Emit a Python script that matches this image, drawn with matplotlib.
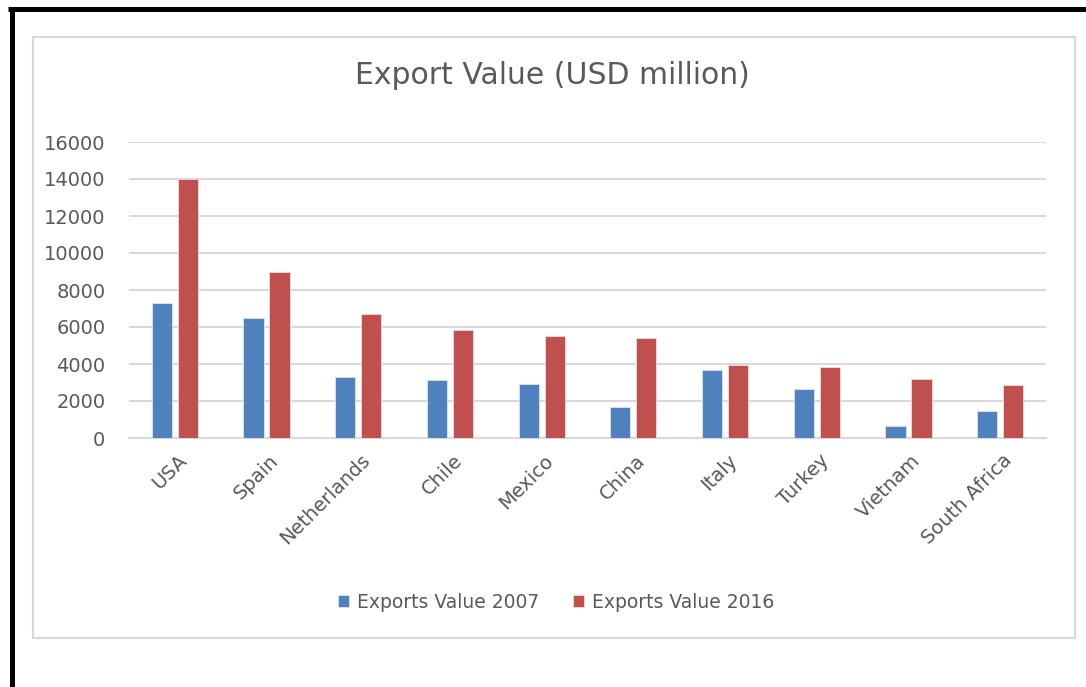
import numpy as np
import matplotlib
matplotlib.use("Agg")
import matplotlib.pyplot as plt
from matplotlib.patches import Rectangle
from matplotlib.lines import Line2D

# Exportwerte in Mio. USD
countries = ["USA", "Spain", "Netherlands", "Chile", "Mexico",
             "China", "Italy", "Turkey", "Vietnam", "South Africa"]
exports_2007 = [7300, 6500, 3300, 3150, 2900, 1650, 3700, 2650, 650, 1450]
exports_2016 = [14000, 8950, 6700, 5850, 5500, 5400, 3950, 3850, 3200, 2850]
y_ticks = [0, 2000, 4000, 6000, 8000, 10000, 12000, 14000, 16000]

blue = "#4F81BD"
red = "#C0504D"
text_gray = "#595959"
grid_gray = "#D9D9D9"

fig = plt.figure(figsize=(10.86, 6.87), dpi=100)
ax = fig.add_axes([129 / 1086, 1 - 438 / 687, 917 / 1086, 296 / 687])

x = np.arange(len(countries))
w = 0.22
off = 0.142
ax.bar(x - off, exports_2007, w, color=blue, edgecolor="#DCE6F2", linewidth=0.6,
       label="Exports Value 2007", zorder=3)
ax.bar(x + off, exports_2016, w, color=red, edgecolor="#F2DCDB", linewidth=0.6,
       label="Exports Value 2016", zorder=3)

ax.set_xlim(-0.5, len(countries) - 0.5)
ax.set_ylim(0, 16000)
ax.set_yticks(y_ticks)
ax.set_yticklabels([str(t) for t in y_ticks])
ax.yaxis.grid(True, color=grid_gray, linewidth=1.5, zorder=0)
ax.set_axisbelow(True)
for s in ["top", "right", "left"]:
    ax.spines[s].set_visible(False)
ax.spines["bottom"].set_color(grid_gray)
ax.spines["bottom"].set_linewidth(1.5)
ax.tick_params(axis="y", length=0, pad=17, labelsize=14, labelcolor=text_gray)
ax.tick_params(axis="x", length=0, pad=14)
ax.set_xticks(x + 0.1)
ax.set_xticklabels(countries, rotation=45, ha="right", va="center",
                   rotation_mode="anchor", fontsize=14, color=text_gray)

# Titel
fig.text(552 / 1086, 1 - 75 / 687, "Export Value (USD million)", ha="center",
         va="center", fontsize=21.5, color=text_gray)

# Legende unten
fig.legend(loc="center", bbox_to_anchor=(556 / 1086, 1 - 602 / 687), ncol=2,
           frameon=False, fontsize=13.5, labelcolor=text_gray,
           handlelength=0.6, handleheight=0.6, handletextpad=0.4,
           columnspacing=1.8)

# Rahmen des Diagramms
fig.add_artist(Rectangle((33 / 1086, 1 - 638 / 687), 1042 / 1086, 601 / 687,
                         transform=fig.transFigure, fill=False,
                         edgecolor="#D9D9D9", linewidth=1.5))
# schwarzer Rand oben und links
fig.add_artist(Line2D([8 / 1086, 1], [1 - 9 / 687, 1 - 9 / 687],
                      transform=fig.transFigure, color="black", linewidth=3.6,
                      solid_capstyle="butt"))
fig.add_artist(Line2D([11.5 / 1086, 11.5 / 1086], [0, 1 - 6.5 / 687],
                      transform=fig.transFigure, color="black", linewidth=3.6,
                      solid_capstyle="butt"))

fig.savefig("out.png", dpi=100)
